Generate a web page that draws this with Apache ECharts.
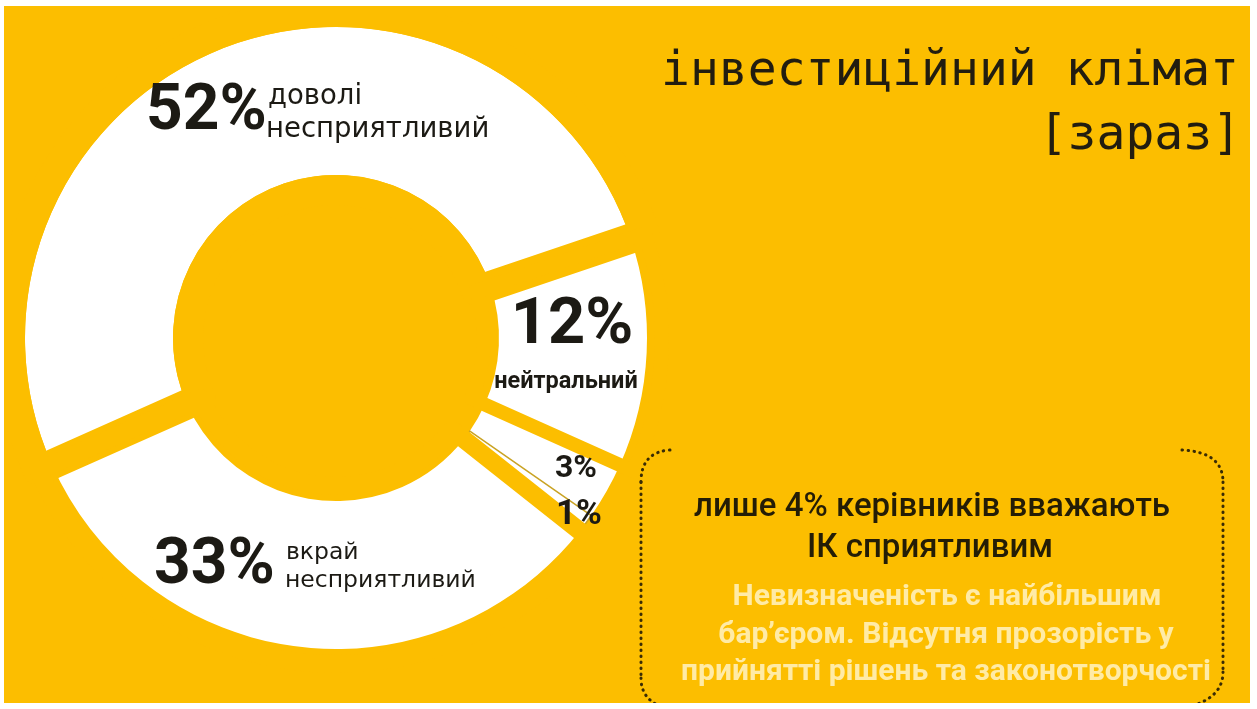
<!DOCTYPE html>
<html><head><meta charset="utf-8">
<script src="https://cdn.jsdelivr.net/npm/echarts@6/dist/echarts.min.js"></script>
<style>
html,body{margin:0;padding:0;background:#fff;width:1257px;height:709px;overflow:hidden;}
#chart{position:absolute;left:4px;top:6px;width:1246px;height:697px;background:#FCBE00;}
</style></head><body>
<div id="chart"></div>
<script>
// ---- data ----
const categories = ['доволі несприятливий', 'нейтральний', 'скоріше сприятливий', 'дуже сприятливий', 'вкрай несприятливий'];
const values = [52, 12, 3, 1, 33];
const titleLines = ['інвестиційний клімат', '[зараз]'];
const noteHead = ['лише 4% керівників вважають', 'ІК сприятливим'];
const noteBody = ['Невизначеність є найбільшим', 'бар\u02bcєром. Відсутня прозорість у', 'прийнятті рішень та законотворчості'];

// ---- styles ----
const YELLOW = '#FCBE00';
const DARK = '#1c1a14';
const gapW = [30, 14, 0, 0, 18];
const OX = 4, OY = 6; // chart box offset inside the page
const X = v => v - OX, Y = v => v - OY;
const CENTER = [X(336), Y(338)];
const START = 204;

const chart = echarts.init(document.getElementById('chart'));
const pct = i => values[i] + '%';
const bold = 'Roboto, "DejaVu Sans", sans-serif';
const reg = '"DejaVu Sans", "Noto Sans", sans-serif';

function txt(text, x, y, size, opts) {
  opts = opts || {};
  return {
    type: 'text', x: X(x), y: Y(y), silent: true, z: 10,
    style: {
      text: text,
      fontSize: size,
      fontFamily: opts.family || bold,
      fontWeight: opts.weight || 'bold',
      fill: opts.fill || DARK,
      align: opts.align || 'left',
      verticalAlign: 'middle'
    }
  };
}
const dotStyle = { fill: 'none', stroke: '#3a2c05', lineWidth: 3, lineDash: [0.5, 5.5], lineCap: 'round' };
function curve(x1, y1, cx, cy, x2, y2) {
  return { type: 'bezierCurve', silent: true, z: 10, shape: { x1: X(x1), y1: Y(y1), cpx1: X(cx), cpy1: Y(cy), x2: X(x2), y2: Y(y2) }, style: dotStyle };
}
function seg(x1, y1, x2, y2) {
  return { type: 'line', silent: true, z: 10, shape: { x1: X(x1), y1: Y(y1), x2: X(x2), y2: Y(y2) }, style: dotStyle };
}

const option = {
  backgroundColor: 'transparent',
  animation: false,
  series: [
    {
      type: 'pie', radius: [163, 311], center: CENTER, startAngle: START, clockwise: true,
      silent: true, z: 2, label: { show: false }, labelLine: { show: false },
      emphasis: { disabled: true },
      data: values.map((v, i) => ({
        value: v, name: categories[i],
        itemStyle: { color: '#ffffff', borderColor: i === 3 ? '#c9a325' : '#ffffff', borderWidth: i === 3 ? 1.5 : 0 }
      }))
    },
    {
      type: 'pie', radius: [148, 326], center: CENTER, startAngle: START, clockwise: true,
      silent: true, z: 3, label: { show: false }, labelLine: { show: false },
      emphasis: { disabled: true },
      data: values.map((v, i) => ({
        value: v, name: categories[i],
        itemStyle: { color: 'rgba(0,0,0,0)', borderColor: YELLOW, borderWidth: gapW[i] }
      }))
    }
  ],
  graphic: [
    txt(titleLines[0], 1239, 73, 48, { family: '"DejaVu Sans Mono", monospace', weight: 'normal', align: 'right', fill: '#221d10' }),
    txt(titleLines[1], 1241, 137, 48, { family: '"DejaVu Sans Mono", monospace', weight: 'normal', align: 'right', fill: '#221d10' }),
    txt(pct(0), 146, 113, 64),
    txt('доволі', 268, 97, 27.5, { family: reg, weight: 'normal' }),
    txt('несприятливий', 266, 130, 27.5, { family: reg, weight: 'normal' }),
    txt(pct(1), 572, 327, 65, { align: 'center' }),
    txt(categories[1], 566, 382, 23.5, { align: 'center' }),
    txt(pct(2), 576, 469, 32, { align: 'center' }),
    txt(pct(3), 579, 515, 35, { align: 'center' }),
    txt(pct(4), 154, 567, 64),
    txt('вкрай', 286, 553, 23.5, { family: reg, weight: 'normal' }),
    txt('несприятливий', 285, 581, 23.5, { family: reg, weight: 'normal' }),
    txt(noteHead[0], 932, 508, 33, { align: 'center', weight: '500', fill: '#241d06' }),
    txt(noteHead[1], 930, 549, 33, { align: 'center', weight: '500', fill: '#241d06' }),
    txt(noteBody[0], 947, 597, 30, { align: 'center', fill: '#FFEBA6' }),
    txt(noteBody[1], 946, 635, 30, { align: 'center', fill: '#FFEBA6' }),
    txt(noteBody[2], 946, 672, 30, { align: 'center', fill: '#FFEBA6' }),
    curve(670, 450, 641, 452, 641, 482),
    seg(641, 482, 641, 678),
    curve(641, 678, 641, 703, 670, 709),
    curve(1182, 450, 1223, 452, 1223, 482),
    seg(1223, 482, 1223, 672),
    curve(1223, 672, 1223, 700, 1183, 708)
  ]
};
chart.setOption(option);
</script>
</body></html>
